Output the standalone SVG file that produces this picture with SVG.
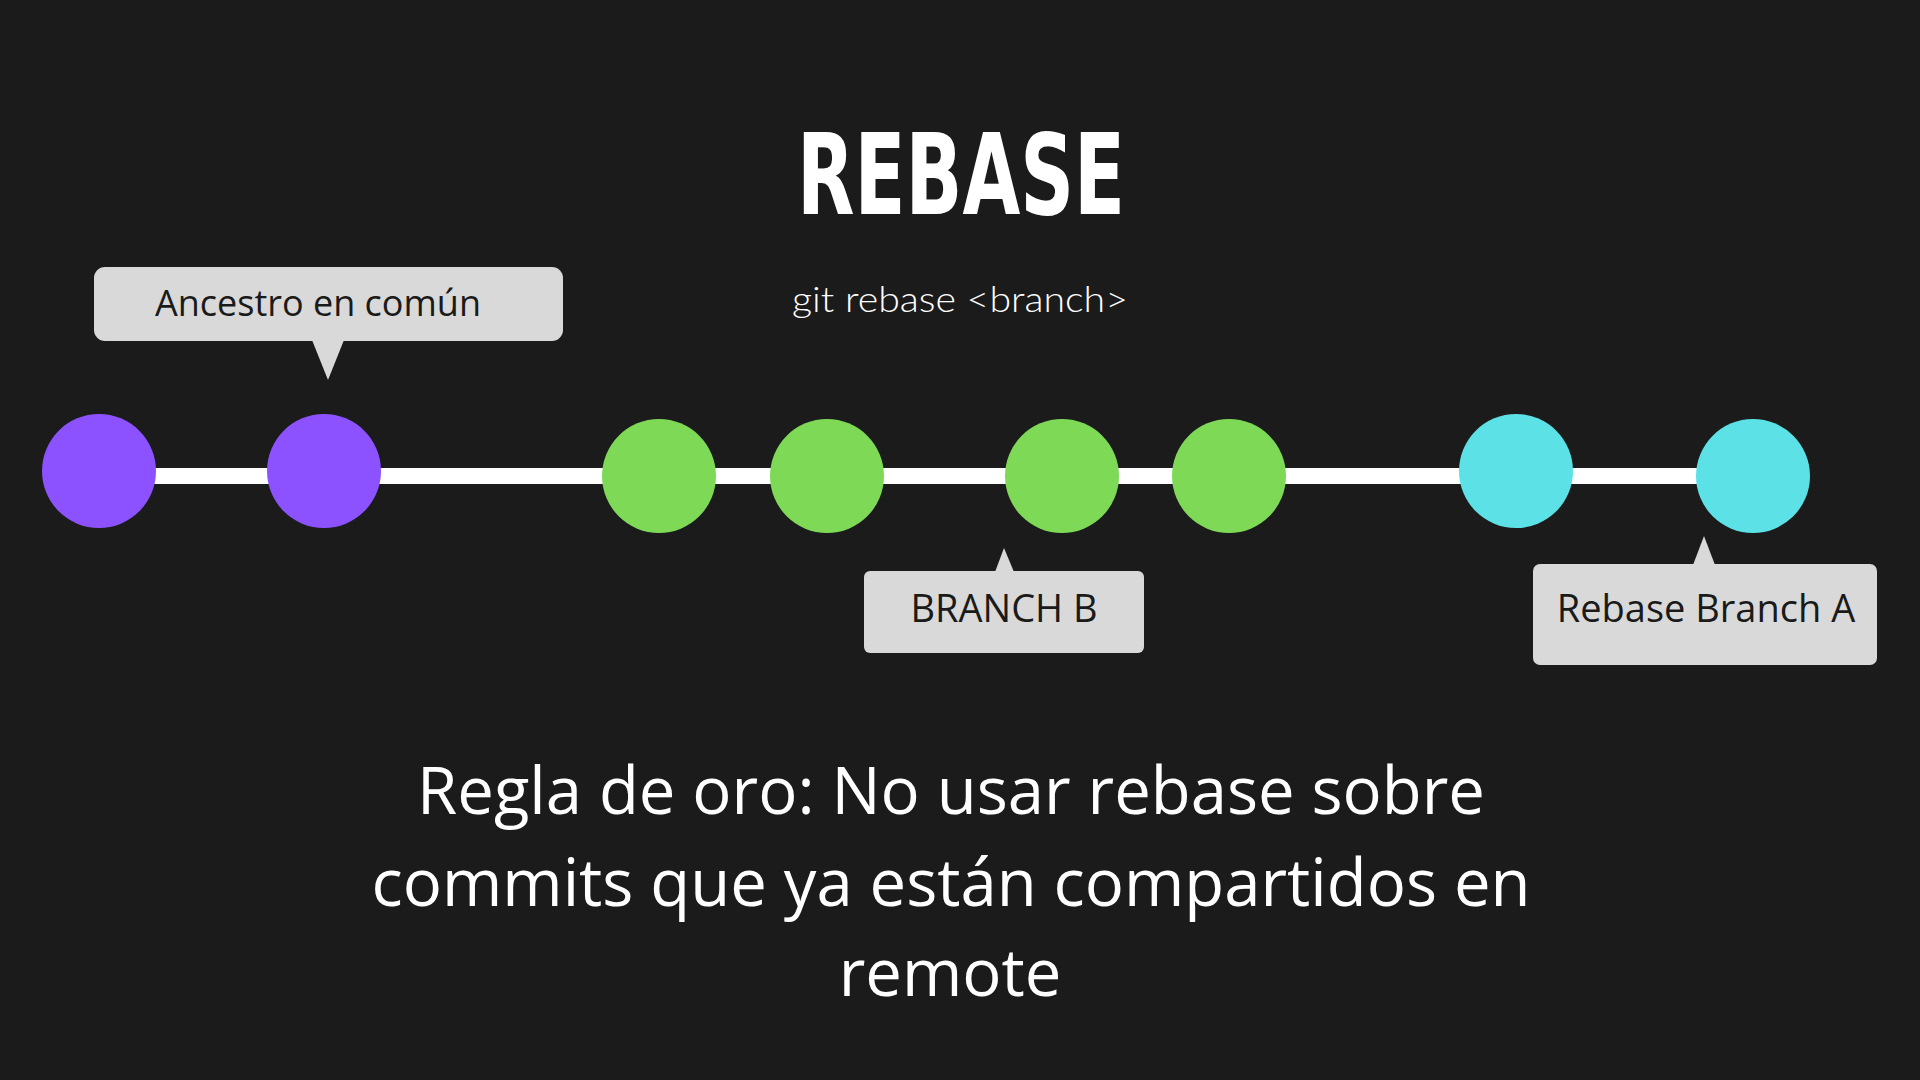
<svg xmlns="http://www.w3.org/2000/svg" width="1920" height="1080" viewBox="0 0 1920 1080">
<style>
.bubble{fill:#d9d9d9}
.btext{font-family:"Open Sans","Liberation Sans",sans-serif;fill:#1a1a1a;text-anchor:middle}
.purple{fill:#8c52ff}
.green{fill:#7ed957}
.cyan{fill:#5ce1e6}
.body{font-family:"Open Sans","Liberation Sans",sans-serif;font-size:65.2px;fill:#ffffff;text-anchor:middle}
</style>
<rect x="0" y="0" width="1920" height="1080" fill="#1b1b1b"/>
<text id="title" x="961" y="214" font-family="'DejaVu Sans Condensed','DejaVu Sans',sans-serif" font-weight="bold" font-size="112" fill="#ffffff" text-anchor="middle" textLength="328" lengthAdjust="spacingAndGlyphs">REBASE</text>
<text id="subtitle" x="960" y="312" font-family="Lato,'Open Sans',sans-serif" font-weight="300" font-size="36" fill="#ffffff" text-anchor="middle" textLength="336" lengthAdjust="spacingAndGlyphs">git rebase &lt;branch&gt;</text>
<g id="connectors">
<line x1="99" y1="476" x2="1753" y2="476" stroke="#ffffff" stroke-width="16"/>
</g>
<g id="c1"><circle class="purple" cx="99" cy="471" r="57"/></g>
<g id="c2"><circle class="purple" cx="324" cy="471" r="57"/></g>
<g id="c3"><circle class="green" cx="659" cy="476" r="57"/></g>
<g id="c4"><circle class="green" cx="827" cy="476" r="57"/></g>
<g id="c5"><circle class="green" cx="1062" cy="476" r="57"/></g>
<g id="c6"><circle class="green" cx="1229" cy="476" r="57"/></g>
<g id="c7"><circle class="cyan" cx="1516" cy="471" r="57"/></g>
<g id="c8"><circle class="cyan" cx="1753" cy="476" r="57"/></g>
<g id="label-ancestro">
<rect class="bubble" x="94" y="267" width="469" height="74" rx="11"/>
<polygon class="bubble" points="312,340 344,340 328,380"/>
<text class="btext" x="318" y="316" font-size="36">Ancestro en común</text>
</g>
<g id="label-branch-b">
<rect class="bubble" x="864" y="571" width="280" height="82" rx="6"/>
<polygon class="bubble" points="995,572 1014,572 1004,548"/>
<text class="btext" x="1004" y="622" font-size="38">BRANCH B</text>
</g>
<g id="label-rebase-a">
<rect class="bubble" x="1533" y="564" width="344" height="101" rx="7"/>
<polygon class="bubble" points="1693,565 1715,565 1704,536"/>
<text class="btext" x="1706" y="622" font-size="38">Rebase Branch A</text>
</g>
<g id="rule">
<text class="body" x="951" y="814">Regla de oro: No usar rebase sobre</text>
<text class="body" x="951" y="906">commits que ya están compartidos en</text>
<text class="body" x="950" y="996">remote</text>
</g>
</svg>
